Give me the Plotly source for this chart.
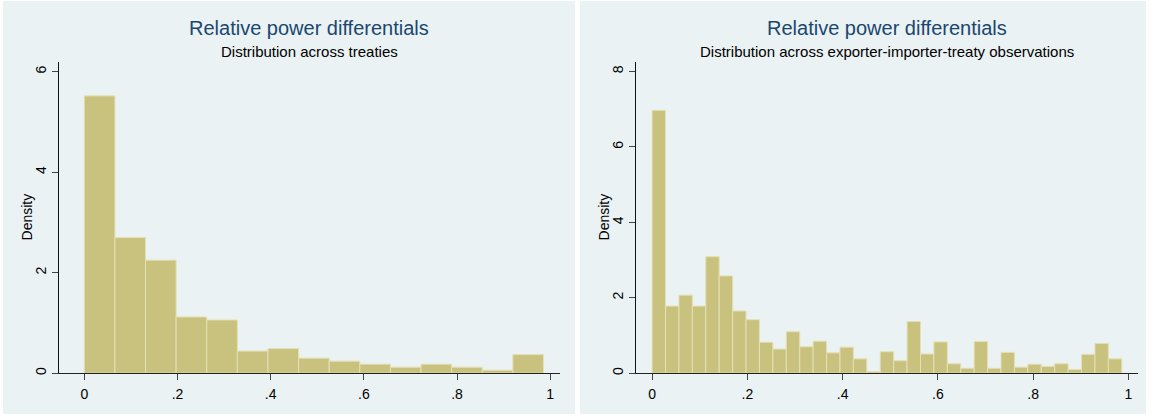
import numpy as np
import plotly.graph_objects as go

# ---------------- data ----------------
# Left panel: distribution across treaties (15 bins from 0)
left_bin_start = 0.0
left_bin_width = 0.0657
left_density = [5.52, 2.70, 2.25, 1.12, 1.06, 0.44, 0.49, 0.30, 0.24, 0.18,
                0.12, 0.18, 0.12, 0.06, 0.37]

# Right panel: exporter-importer-treaty observations (35 bins from 0)
right_bin_start = 0.0
right_bin_width = 0.02817
right_density = [6.97, 1.78, 2.07, 1.78, 3.09, 2.58, 1.65, 1.42, 0.82, 0.64,
                 1.10, 0.70, 0.85, 0.54, 0.69, 0.38, 0.04, 0.57, 0.33, 1.37,
                 0.51, 0.83, 0.25, 0.13, 0.84, 0.13, 0.55, 0.16, 0.24, 0.18,
                 0.25, 0.10, 0.50, 0.79, 0.38]

title_text = "Relative power differentials"
left_subtitle = "Distribution across treaties"
right_subtitle = "Distribution across exporter-importer-treaty observations"
y_title = "Density"

x_tickvals = [0, 0.2, 0.4, 0.6, 0.8, 1]
x_ticktext = ["0", ".2", ".4", ".6", ".8", "1"]
left_y_tickvals = [0, 2, 4, 6]
right_y_tickvals = [0, 2, 4, 6, 8]

# ---------------- style ----------------
W, H = 1151, 417
FONT = "Arial, Liberation Sans, sans-serif"
PANEL_BG = "#EAF2F3"
BAR_FILL = "#C9C27F"
BAR_LINE = "#E4E0B4"
TITLE_COL = "#1A476F"
GRID_COL = "#EAF2F3"

def px_x(p):
    return p / W

def px_y(p):
    return 1 - p / H

def centers(start, width, n):
    return start + width * (np.arange(n) + 0.5)

fig = go.Figure()

fig.add_trace(go.Bar(
    x=centers(left_bin_start, left_bin_width, len(left_density)),
    y=left_density, width=left_bin_width,
    marker=dict(color=BAR_FILL, line=dict(color=BAR_LINE, width=1)),
    xaxis="x", yaxis="y", showlegend=False, hoverinfo="skip"))

fig.add_trace(go.Bar(
    x=centers(right_bin_start, right_bin_width, len(right_density)),
    y=right_density, width=right_bin_width,
    marker=dict(color=BAR_FILL, line=dict(color=BAR_LINE, width=1)),
    xaxis="x2", yaxis="y2", showlegend=False, hoverinfo="skip"))

# plot regions (pixels)
L = dict(x0=59, x1=560)
R = dict(x0=636, x1=1138)
TOP, BOT = 62, 375

tickfont = dict(family=FONT, size=14, color="black")

def xaxis_cfg(region, rng, anchor):
    return dict(domain=[px_x(region["x0"]), px_x(region["x1"])], range=rng,
                anchor=anchor, tickvals=x_tickvals, ticktext=x_ticktext,
                ticks="outside", ticklen=6, tickcolor="#444", tickwidth=1,
                showline=True, linecolor="#222", linewidth=1,
                showgrid=False, zeroline=False, tickfont=tickfont,
                ticklabelstandoff=2, fixedrange=True)

def yaxis_cfg(rng, tickvals, anchor):
    return dict(domain=[px_y(BOT), px_y(TOP)], range=rng, anchor=anchor,
                tickvals=tickvals, ticks="outside", ticklen=6, tickcolor="#444",
                tickwidth=1, showline=True, linecolor="#111", linewidth=1,
                showgrid=True, gridcolor=GRID_COL, gridwidth=1, zeroline=False,
                tickangle=-90, tickfont=tickfont, ticklabelstandoff=0,
                fixedrange=True)

fig.update_layout(
    width=W, height=H, autosize=False,
    margin=dict(l=0, r=0, t=0, b=0),
    paper_bgcolor="white", plot_bgcolor="white",
    barmode="overlay",
    xaxis=xaxis_cfg(L, [-0.0543, 1.021], "y"),
    yaxis=yaxis_cfg([0, 6.2], left_y_tickvals, "x"),
    xaxis2=xaxis_cfg(R, [-0.0338, 1.020], "y2"),
    yaxis2=yaxis_cfg([0, 8.26], right_y_tickvals, "x2"),
    font=dict(family=FONT),
)

# panel backgrounds
shapes = []
for x0, x1 in [(3, 575), (580, 1146)]:
    shapes.append(dict(type="rect", xref="paper", yref="paper",
                       x0=px_x(x0), x1=px_x(x1), y0=px_y(416), y1=px_y(1),
                       fillcolor=PANEL_BG, line=dict(width=0), layer="below"))
fig.update_layout(shapes=shapes)

annotations = []
for region, sub in [(L, left_subtitle), (R, right_subtitle)]:
    cx = px_x((region["x0"] + region["x1"]) / 2)
    annotations.append(dict(text=title_text, x=cx, y=px_y(28), xref="paper",
                            yref="paper", xanchor="center", yanchor="middle",
                            showarrow=False,
                            font=dict(family=FONT, size=20, color=TITLE_COL)))
    annotations.append(dict(text=sub, x=cx, y=px_y(51.5), xref="paper",
                            yref="paper", xanchor="center", yanchor="middle",
                            showarrow=False,
                            font=dict(family=FONT, size=15, color="black")))
    annotations.append(dict(text=y_title, x=px_x(region["x0"] - 32),
                            y=px_y((TOP + BOT) / 2), xref="paper", yref="paper",
                            xanchor="center", yanchor="middle", textangle=-90,
                            showarrow=False,
                            font=dict(family=FONT, size=14, color="black")))
fig.update_layout(annotations=annotations)

fig.write_html(
    "out.html",
    config={"displayModeBar": False, "staticPlot": True},
    post_script="document.body.style.margin='0';document.body.style.overflow='hidden';",
)
